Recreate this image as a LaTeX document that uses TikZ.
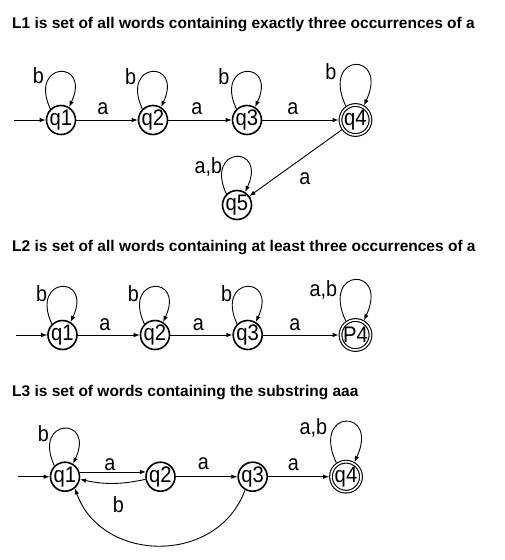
\documentclass[tikz,border=0pt]{standalone}
\usepackage{fontspec}
\setmainfont{Liberation Sans}
\newfontfamily\condfont[FakeStretch=0.9]{Liberation Sans}
\usetikzlibrary{arrows.meta}
\begin{document}
\begin{tikzpicture}[x=1pt,y=1pt,
  st/.style={circle,draw,line width=1.6pt,minimum size=29pt,inner sep=0pt},
  acc/.style={circle,draw,line width=1.1pt,double,double distance=1.6pt,minimum size=30pt,inner sep=0pt,outer sep=1.9pt},
  txt/.style={font={\condfont\fontsize{22.5}{23}\selectfont},inner sep=0pt},
  lbl/.style={font={\condfont\fontsize{22}{22}\selectfont},inner sep=0pt},
  ttl/.style={font=\fontsize{15.5}{16}\selectfont\bfseries,inner sep=0pt,anchor=base west},
  tr/.style={line width=0.9pt,-{Latex[length=6pt,width=4.5pt]}},
  lp/.style={tr,out=115,in=65,distance=53pt},
  lpd/.style={tr,out=115,in=65,distance=60pt},
]
\useasboundingbox (0,0) rectangle (504,-560);

% ---------- L1 ----------
\node[ttl] (t1) at (12,-28) {L1 is set of all words containing exactly three occurrences of a};
\coordinate (a0) at (14,-120);
\node[st,label={[txt]center:q1}] (a1) at (61,-120) {};
\node[st,label={[txt]center:q2}] (a2) at (153,-120) {};
\node[st,label={[txt]center:q3}] (a3) at (247,-120) {};
\node[acc,label={[txt]center:q4}] (a4) at (355.5,-120) {};
\node[st,label={[txt]center:q5}] (a5) at (237,-205) {};
\draw[tr] (a0) -- (a1);
\draw[tr] (a1) -- (a2);
\draw[tr] (a2) -- (a3);
\draw[tr] (a3) -- (a4);
\draw[tr] (a4) -- (a5);
\draw[lp] (a1.134) to (a1.58);
\draw[lp] (a2.134) to (a2.58);
\draw[lp] (a3.134) to (a3.58);
\draw[lpd] (a4.125) to (a4.60);
\draw[lp] (a5.134) to (a5.58);
\node[lbl] (la1) at (103,-109) {a};
\node[lbl] (la2) at (197,-109) {a};
\node[lbl] (la3) at (293,-109) {a};
\node[lbl] (la4) at (305,-178.3) {a};
\node[lbl] (lb1) at (38.3,-76) {b};
\node[lbl] (lb2) at (130.7,-76.7) {b};
\node[lbl] (lb3) at (224,-76.7) {b};
\node[lbl] (lb4) at (331,-71.7) {b};
\node[lbl] (lb5) at (208.3,-166.7) {a,b};

% ---------- L2 ----------
\node[ttl] (t2) at (12,-251.7) {L2 is set of all words containing at least three occurrences of a};
\coordinate (b0) at (16,-335);
\node[st,label={[txt]center:q1}] (b1) at (62.5,-335) {};
\node[st,label={[txt]center:q2}] (b2) at (155,-335) {};
\node[st,label={[txt]center:q3}] (b3) at (247.7,-335) {};
\node[acc,label={[txt]center:P4}] (b4) at (355.5,-335) {};
\draw[tr] (b0) -- (b1);
\draw[tr] (b1) -- (b2);
\draw[tr] (b2) -- (b3);
\draw[tr] (b3) -- (b4);
\draw[lp] (b1.134) to (b1.58);
\draw[lp] (b2.134) to (b2.58);
\draw[lp] (b3.134) to (b3.58);
\draw[lpd] (b4.125) to (b4.60);
\node[lbl] (ma1) at (105,-325) {a};
\node[lbl] (ma2) at (198.3,-325) {a};
\node[lbl] (ma3) at (295,-325) {a};
\node[lbl] (mb1) at (41.7,-293.3) {b};
\node[lbl] (mb2) at (133.3,-293.3) {b};
\node[lbl] (mb3) at (226.7,-294) {b};
\node[lbl] (mb4) at (323.3,-290) {a,b};

% ---------- L3 ----------
\node[ttl] (t3) at (12,-396.7) {L3 is set of words containing the substring aaa};
\coordinate (c0) at (18,-476.7);
\node[st,label={[txt]center:q1}] (c1) at (65,-476.7) {};
\node[st,label={[txt]center:q2}] (c2) at (160.5,-476.7) {};
\node[st,label={[txt]center:q3}] (c3) at (252.7,-476.7) {};
\node[acc,label={[txt]center:q4}] (c4) at (346,-476.7) {};
\draw[tr] (c0) -- (c1);
\draw[tr] (c1.18) -- (c2.162);
\draw[tr] (c2.190) to[bend left=12] (c1.-10);
\draw[tr] (c2) -- (c3);
\draw[tr] (c3) -- (c4);
\draw[tr] (c3.240) to[out=-110,in=-70,distance=80pt] (c1.-50);
\draw[lp] (c1.134) to (c1.58);
\draw[lpd] (c4.125) to (c4.60);
\node[lbl] (na1) at (110,-465) {a};
\node[lbl] (na2) at (203.3,-463.3) {a};
\node[lbl] (na3) at (293.3,-465) {a};
\node[lbl] (nb1) at (43.3,-433.3) {b};
\node[lbl] (nb2) at (118.3,-505) {b};
\node[lbl] (nb3) at (313.3,-428.3) {a,b};
\end{tikzpicture}
\end{document}
